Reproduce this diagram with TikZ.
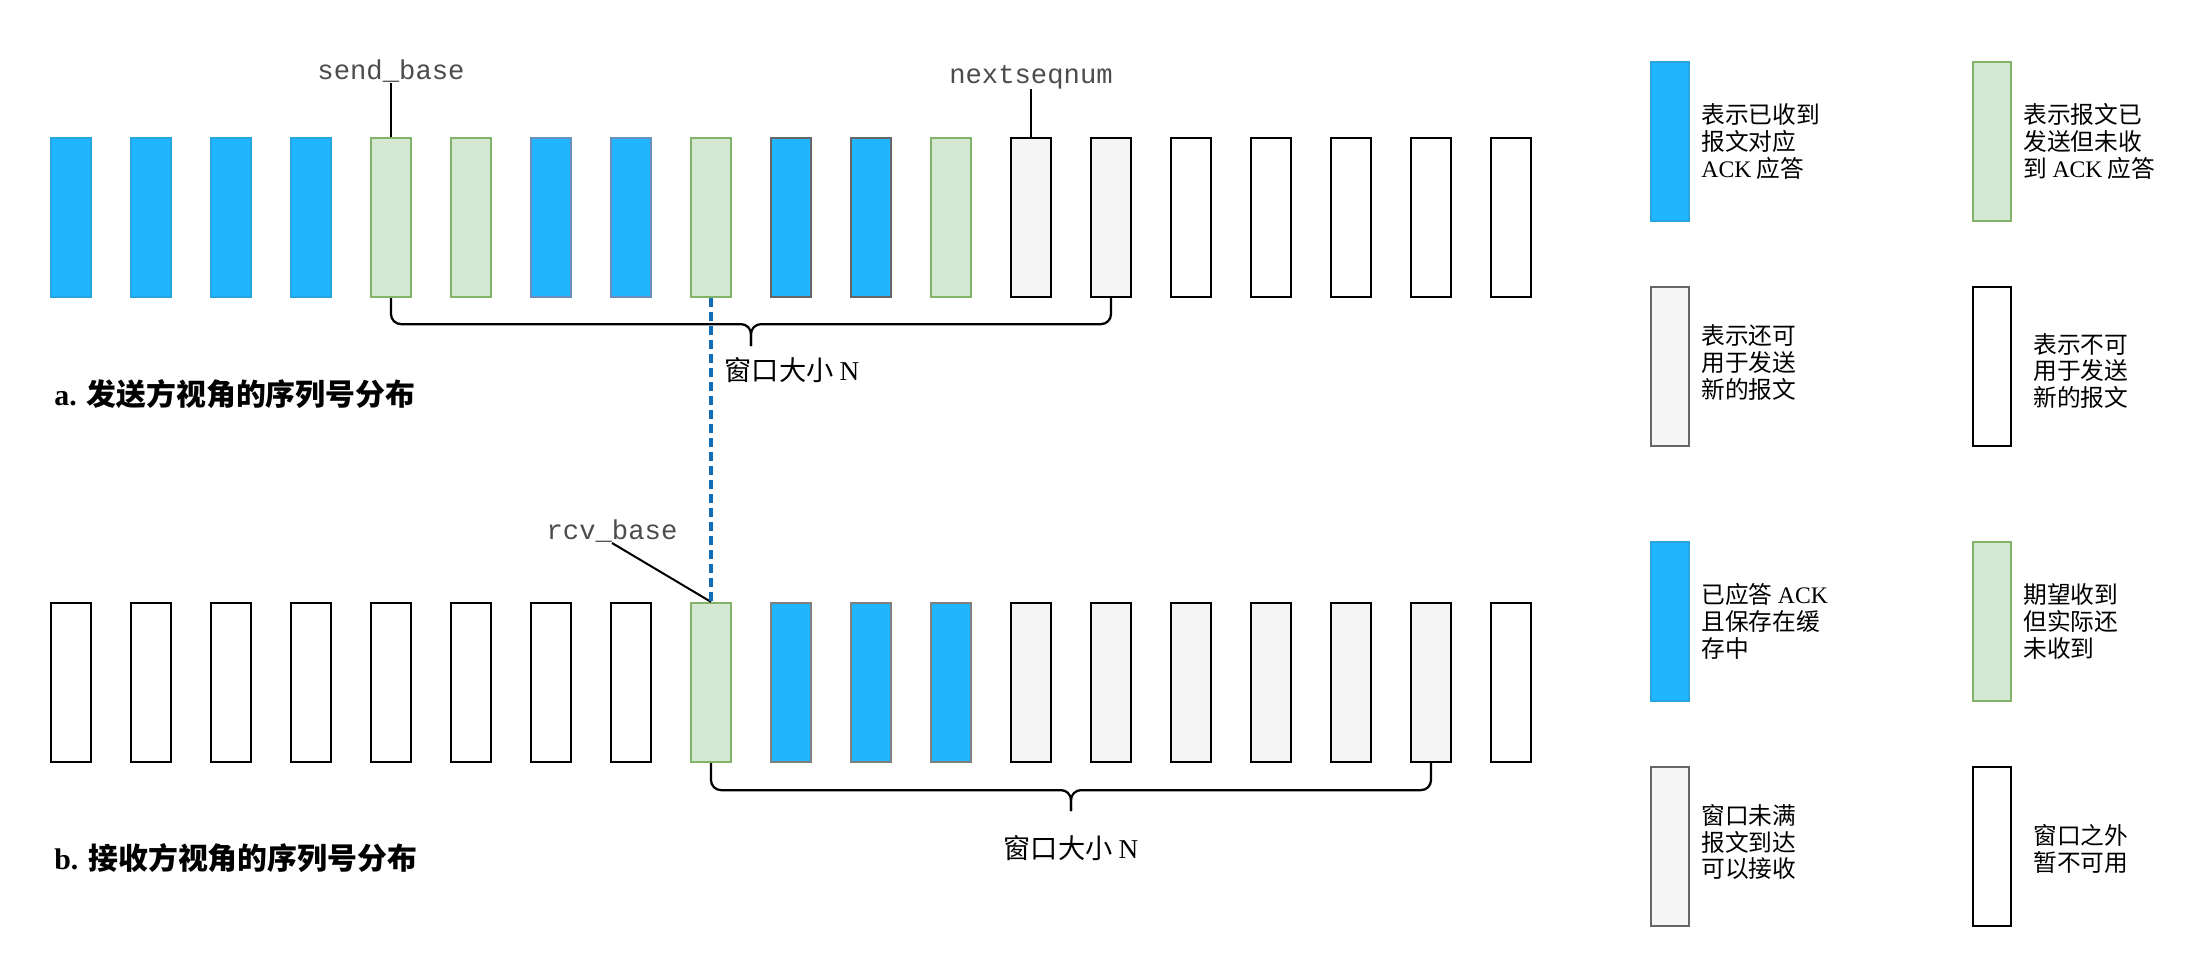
\documentclass[tikz,border=0pt]{standalone}
\usepackage{fontspec}
\setmainfont{Liberation Serif}
\setmonofont{Liberation Mono}
\newfontfamily\cjk{Noto Sans CJK SC}
\usepackage{tikz}
\usetikzlibrary{positioning,calc}

\definecolor{ackblue}{RGB}{31,182,255}
\definecolor{ackedge}{RGB}{40,165,225}
\definecolor{ackedgeb}{RGB}{108,142,191}
\definecolor{grey66}{RGB}{102,102,102}
\definecolor{grey80}{RGB}{128,128,128}
\definecolor{sentfill}{RGB}{213,232,212}
\definecolor{sentedge}{RGB}{130,179,102}
\definecolor{freefill}{RGB}{245,245,245}
\definecolor{dashblue}{RGB}{16,110,185}

\begin{document}
\begin{tikzpicture}[x=0.2mm,y=0.2mm,
  cell/.style={draw,line width=0.45mm,inner sep=0pt,minimum width=8mm,minimum height=31.8mm},
  acked/.style={fill=ackblue,draw=ackedge},
  ackedb/.style={fill=ackblue,draw=ackedgeb},
  ackedc/.style={fill=ackblue,draw=grey66},
  ackedd/.style={fill=ackblue,draw=grey80},
  sent/.style={fill=sentfill,draw=sentedge},
  usable/.style={fill=freefill,draw=black},
  usablekey/.style={fill=freefill,draw=grey66,minimum width=7.6mm},
  unusable/.style={fill=white,draw=black},
  ptrlabel/.style={anchor=south,inner sep=0pt,text=black!70,font=\ttfamily\fontsize{15.5pt}{18pt}\selectfont},
  ptrline/.style={line width=0.4mm},
  seqdash/.style={draw=dashblue,line width=0.7mm,dash pattern=on 1.8mm off 1mm},
  brace/.style={line width=0.45mm,rounded corners=2mm},
  winlabel/.style={inner sep=0pt,font=\cjk\fontsize{15.5pt}{18pt}\selectfont},
  heading/.style={anchor=west,inner sep=0pt,font=\fontsize{17pt}{20pt}\selectfont\bfseries},
  keytext/.style={anchor=west,align=left,inner sep=0pt,font=\cjk\fontsize{13.5pt}{15.3pt}\selectfont}]
  \useasboundingbox (0,0) rectangle (2212,-978);

  % sender side
  \foreach \t [count=\i] in {acked,acked,acked,acked,sent,sent,ackedb,ackedb,sent,ackedc,ackedc,sent,
                             usable,usable,unusable,unusable,unusable,unusable,unusable}
    \node[cell,\t] (s\i) at ({71+80*(\i-1)},-217.5) {};
  \node[ptrlabel] (sb) at (391,-83) {send\_base};
  \draw[ptrline] (sb.south) -- (s5.north);
  \node[ptrlabel] (ns) at (1031,-89) {nextseqnum};
  \draw[ptrline] (ns.south) -- (s13.north);
  \coordinate (wa) at ($(s5.south)!.5!(s14.south)+(0,-26)$);
  \draw[brace] (s5.south) |- (wa) -- ++(0,-22);
  \draw[brace] (s14.south) |- (wa) -- ++(0,-22);
  \node[winlabel] (wina) at (792,-370) {窗口大小 {\rmfamily N}};
  \node[heading] (ta) at (54,-394) {a. {\cjk 发送方视角的序列号分布}};

  % receiver side
  \foreach \t [count=\i] in {unusable,unusable,unusable,unusable,unusable,unusable,unusable,unusable,
                             sent,ackedd,ackedd,ackedd,usable,usable,usable,usable,usable,usable,unusable}
    \node[cell,\t] (r\i) at ({71+80*(\i-1)},-682.5) {};
  \node[ptrlabel] (rb) at (612,-543) {rcv\_base};
  \draw[ptrline] (rb.south) -- (r9.north);
  \draw[seqdash] (s9.south) -- (r9.north);
  \coordinate (wb) at ($(r9.south)!.5!(r18.south)+(0,-27)$);
  \draw[brace] (r9.south) |- (wb) -- ++(0,-21);
  \draw[brace] (r18.south) |- (wb) -- ++(0,-21);
  \node[winlabel] (winb) at (1071,-848) {窗口大小 {\rmfamily N}};
  \node[heading] (tb) at (54,-858) {b. {\cjk 接收方视角的序列号分布}};

  % legend
  \node[cell,acked,minimum width=7.6mm] (k1) at (1670,-141.5) {};
  \node[keytext] (k1t) at ([xshift=2.2mm]k1.east) {表示已收到\\报文对应\\{\rmfamily ACK} 应答};
  \node[cell,sent,minimum width=7.6mm] (k2) at (1992,-141.5) {};
  \node[keytext] (k2t) at ([xshift=2.2mm]k2.east) {表示报文已\\发送但未收\\到 {\rmfamily ACK} 应答};
  \node[cell,usablekey] (k3) at (1670,-366.5) {};
  \node[keytext] (k3t) at ([xshift=2.2mm,yshift=0.8mm]k3.east) {表示还可\\用于发送\\新的报文};
  \node[cell,unusable,minimum width=7.6mm] (k4) at (1992,-366.5) {};
  \node[keytext] (k4t) at ([xshift=4.2mm,yshift=-0.9mm]k4.east) {表示不可\\用于发送\\新的报文};
  \node[cell,acked,minimum width=7.6mm] (k5) at (1670,-621.5) {};
  \node[keytext] (k5t) at ([xshift=2.2mm]k5.east) {已应答 {\rmfamily ACK}\\且保存在缓\\存中};
  \node[cell,sent,minimum width=7.6mm] (k6) at (1992,-621.5) {};
  \node[keytext] (k6t) at ([xshift=2.2mm]k6.east) {期望收到\\但实际还\\未收到};
  \node[cell,usablekey] (k7) at (1670,-846.5) {};
  \node[keytext] (k7t) at ([xshift=2.2mm,yshift=0.9mm]k7.east) {窗口未满\\报文到达\\可以接收};
  \node[cell,unusable,minimum width=7.6mm] (k8) at (1992,-846.5) {};
  \node[keytext] (k8t) at ([xshift=4.2mm,yshift=-0.5mm]k8.east) {窗口之外\\暂不可用};
\end{tikzpicture}
\end{document}
